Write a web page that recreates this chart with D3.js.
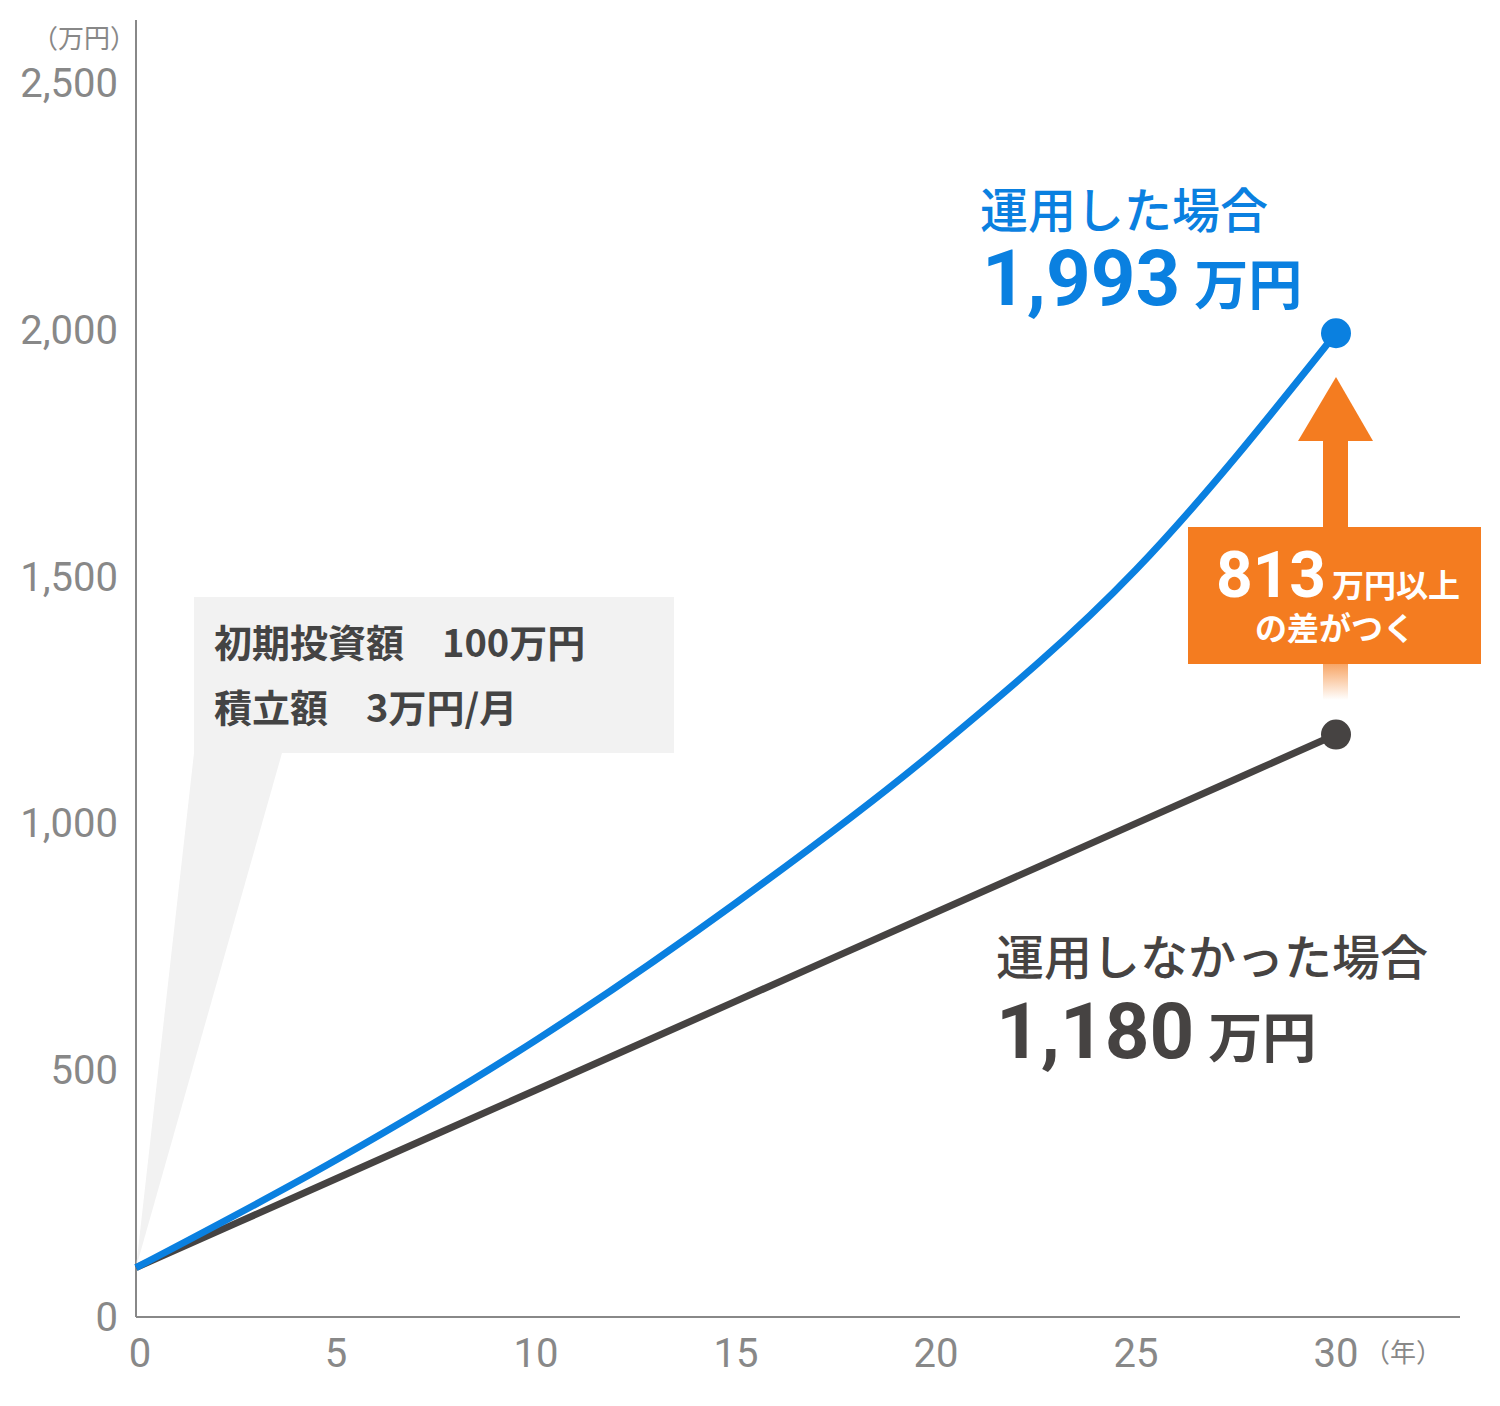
<!DOCTYPE html>
<html><head><meta charset="utf-8">
<script src="https://cdn.jsdelivr.net/npm/d3@7"></script>
<style>body{margin:0;background:#fff}svg{display:block}text{font-family:Roboto,"Noto Sans CJK JP",sans-serif}</style>
</head><body><svg id="c" width="1500" height="1406"></svg>
<script>
const years = [0,5,10,15,20,25,30];
const invested = [100,318,561,839,1149,1514,1993];
const saved = [100,280,460,640,820,1000,1180];
const xTicks = [0,5,10,15,20,25,30];
const yTicks = [0,500,1000,1500,2000,2500];
const yTickLabels = ["0","500","1,000","1,500","2,000","2,500"];

const svg = d3.select("#c");
const x = d3.scaleLinear().domain([0,30]).range([136,1336]);
const y = d3.scaleLinear().domain([0,2500]).range([1317,83]);
const JP = '"Noto Sans CJK JP",sans-serif';

// axes
svg.append("line").attr("x1",136).attr("x2",136).attr("y1",20).attr("y2",1317).attr("stroke","#888").attr("stroke-width",2);
svg.append("line").attr("x1",136).attr("x2",1460).attr("y1",1317).attr("y2",1317).attr("stroke","#888").attr("stroke-width",2);
svg.selectAll(".yt").data(yTicks).join("text").attr("x",118).attr("y",d=>y(d)+14)
 .attr("text-anchor","end").attr("font-size",40).attr("fill","#888").text((d,i)=>yTickLabels[i]);
svg.selectAll(".xt").data(xTicks).join("text").attr("x",d=>x(d)+(d===0?4:0)).attr("y",1367)
 .attr("text-anchor","middle").attr("font-size",40).attr("fill","#888").text(d=>d);
svg.append("text").attr("x",32).attr("y",48).attr("font-size",26).attr("fill","#888").style("font-family",JP).text("（万円）");
svg.append("text").attr("x",1364).attr("y",1362).attr("font-size",26).attr("fill","#888").style("font-family",JP).text("（年）");

// callout
svg.append("path").attr("d",`M194,753 L282,753 L${x(0)},${y(100)} Z`).attr("fill","#f2f2f2");
svg.append("rect").attr("x",194).attr("y",597).attr("width",480).attr("height",156).attr("fill","#f2f2f2");
svg.append("text").attr("x",214).attr("y",657).attr("font-size",38).attr("font-weight",700).attr("fill","#444").style("font-family",JP).text("初期投資額　100万円");
svg.append("text").attr("x",214).attr("y",722).attr("font-size",38).attr("font-weight",700).attr("fill","#444").style("font-family",JP).text("積立額　3万円/月");

// lines
const line = d3.line().x((d,i)=>x(years[i])).y(d=>y(d)).curve(d3.curveMonotoneX);
svg.append("path").attr("d",line(saved)).attr("fill","none").attr("stroke","#464342").attr("stroke-width",7);
svg.append("path").attr("d",line(invested)).attr("fill","none").attr("stroke","#0a80e0").attr("stroke-width",7);
svg.append("circle").attr("cx",x(30)).attr("cy",y(1993)).attr("r",15).attr("fill","#0a80e0");
svg.append("circle").attr("cx",x(30)).attr("cy",y(1180)).attr("r",15).attr("fill","#464342");

// arrow
const defs = svg.append("defs");
const g = defs.append("linearGradient").attr("id","fade").attr("x1",0).attr("x2",0).attr("y1",0).attr("y2",1);
g.append("stop").attr("offset","0.8").attr("stop-color","#f47c20");
g.append("stop").attr("offset","1").attr("stop-color","#f47c20").attr("stop-opacity",0);
svg.append("rect").attr("x",1323).attr("y",438).attr("width",25).attr("height",262).attr("fill","url(#fade)");
svg.append("path").attr("d","M1298,441 L1373,441 L1336,377 Z").attr("fill","#f47c20");
svg.append("rect").attr("x",1188).attr("y",527).attr("width",293).attr("height",137).attr("fill","#f47c20");
const t1 = svg.append("text").attr("x",1338).attr("y",597).attr("text-anchor","middle").attr("fill","#fff").attr("font-weight",700);
t1.append("tspan").attr("font-size",64).text("813");
t1.append("tspan").attr("font-size",32).style("font-family",JP).attr("dx",6).text("万円以上");
svg.append("text").attr("x",1335).attr("y",640).attr("text-anchor","middle").attr("fill","#fff").attr("font-weight",700).attr("font-size",32).style("font-family",JP).text("の差がつく");

// labels
svg.append("text").attr("x",980).attr("y",228).attr("font-size",48).attr("font-weight",500).attr("fill","#0a80e0").style("font-family",JP).text("運用した場合");
const b = svg.append("text").attr("x",982).attr("y",305).attr("fill","#0a80e0").attr("font-weight",700);
b.append("tspan").attr("font-size",78).text("1,993");
b.append("tspan").attr("font-size",54).attr("dx",14).style("font-family",JP).text("万円");
svg.append("text").attr("x",996).attr("y",975).attr("font-size",48).attr("font-weight",500).attr("fill","#464342").style("font-family",JP).text("運用しなかった場合");
const k = svg.append("text").attr("x",996).attr("y",1058).attr("fill","#464342").attr("font-weight",700);
k.append("tspan").attr("font-size",78).text("1,180");
k.append("tspan").attr("font-size",54).attr("dx",14).style("font-family",JP).text("万円");
</script></body></html>
